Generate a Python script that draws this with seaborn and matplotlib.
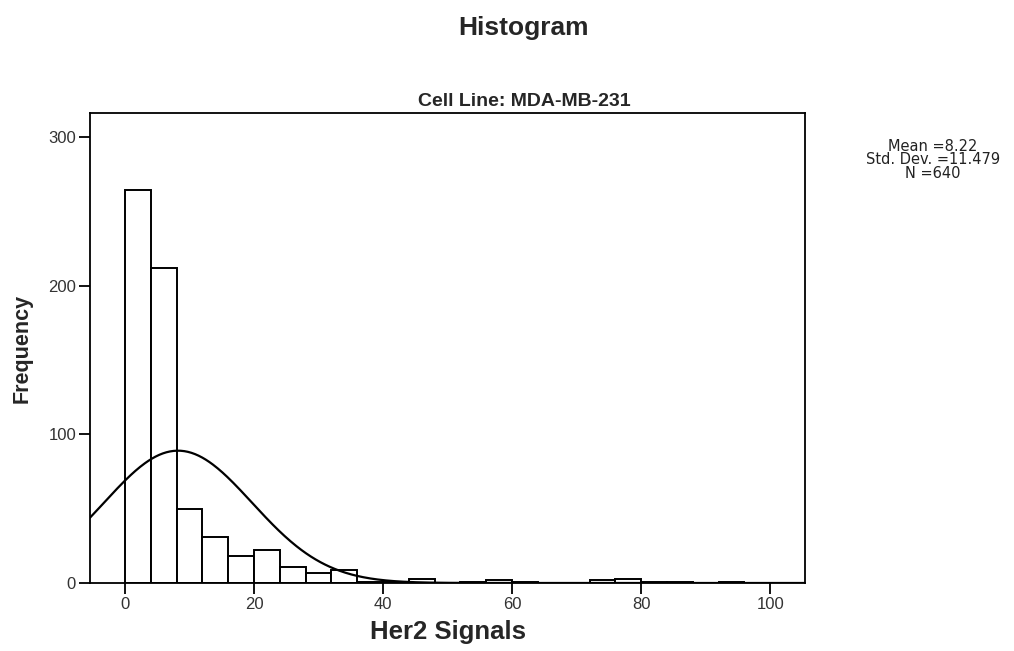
import numpy as np
import pandas as pd
import matplotlib
matplotlib.use("Agg")
import matplotlib.pyplot as plt
import seaborn as sns

# ---- data ----
bin_edges = [0, 4, 8, 12, 16, 20, 24, 28, 32, 36, 40, 44, 48, 52, 56, 60, 64,
             68, 72, 76, 80, 84, 88, 92, 96, 100]
counts = [264, 212, 50, 31, 18, 22, 11, 7, 9, 1, 1, 3, 0, 1, 2, 1,
          0, 0, 2, 3, 1, 1, 0, 1, 0]
stat_mean = 8.22
stat_sd = 11.479
stat_n = 640
x_ticks = [0, 20, 40, 60, 80, 100]
y_ticks = [0, 100, 200, 300]
title = "Histogram"
subtitle = "Cell Line: MDA-MB-231"
x_label = "Her2 Signals"
y_label = "Frequency"

sns.set_style("ticks")
plt.rcParams['font.family'] = ['Liberation Sans', 'DejaVu Sans']

fig = plt.figure(figsize=(10.14, 6.51), dpi=100)
ax = fig.add_axes([90/1014, 1-583/651, (805-90)/1014, (583-113)/651])

centers = [(a + b) / 2 for a, b in zip(bin_edges[:-1], bin_edges[1:])]
df = pd.DataFrame({"x": centers, "w": counts})
sns.histplot(data=df, x="x", weights="w", bins=bin_edges, ax=ax,
             color="white", edgecolor="black", linewidth=1.4, alpha=1)

# fitted normal curve from the stated statistics
xlim = (-5.42, 105.4)
binw = bin_edges[1] - bin_edges[0]
xs = np.linspace(xlim[0], xlim[1], 600)
ys = stat_n * binw / (stat_sd * np.sqrt(2 * np.pi)) * np.exp(-0.5 * ((xs - stat_mean) / stat_sd) ** 2)
sns.lineplot(x=xs, y=ys, ax=ax, color="black", linewidth=1.6)

ax.set_xlim(*xlim)
ax.set_ylim(0, 316)
ax.set_xticks(x_ticks)
ax.set_yticks(y_ticks)
ax.tick_params(axis="both", direction="out", length=8, width=1.3,
               labelsize=12, colors="black", labelcolor="#333333", pad=2)
for s in ax.spines.values():
    s.set_visible(True)
    s.set_color("black")
    s.set_linewidth(1.3)

ax.set_xlabel(x_label, fontsize=18.5, fontweight="bold", labelpad=6)
ax.set_ylabel(y_label, fontsize=15.5, fontweight="bold", labelpad=11)

fig.text(524/1014, 1-28/651, title, ha="center", va="center",
         fontsize=19, fontweight="bold")
fig.text(524/1014, 1-102/651, subtitle, ha="center", va="center",
         fontsize=14, fontweight="bold")
fig.text(933/1014, 1-160/651,
         f"Mean ={stat_mean}\nStd. Dev. ={stat_sd}\nN ={stat_n}",
         ha="center", va="center", fontsize=10.5, linespacing=0.84,
         color="#222222", family=["DejaVu Sans"])

fig.savefig("out.png", dpi=100)
